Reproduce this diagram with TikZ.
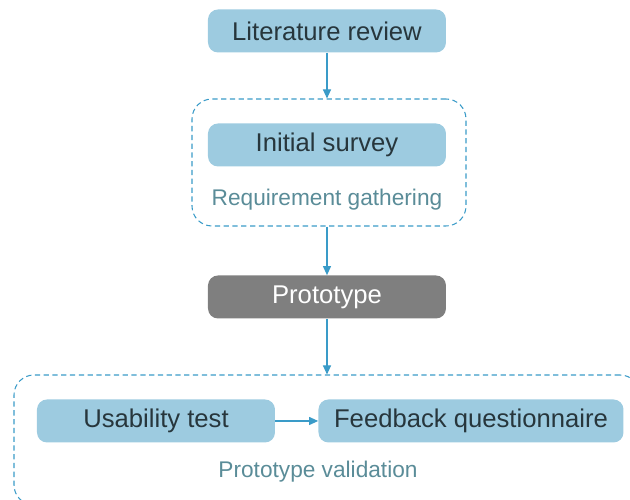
\documentclass[tikz,border=0pt]{standalone}
\usepackage{fontspec}
\setmainfont{Liberation Sans}
\usepackage{xcolor}
\usetikzlibrary{positioning,arrows.meta}

\definecolor{boxblue}{HTML}{9DCBE0}
\definecolor{boxtext}{HTML}{27363C}
\definecolor{linkblue}{HTML}{3A9BC8}
\definecolor{grouptext}{HTML}{5A8C98}
\definecolor{protogray}{HTML}{7F7F7F}

\tikzset{
  stage/.style={rectangle, rounded corners=2mm, fill=boxblue, text=boxtext,
    minimum width=4.76cm, minimum height=0.86cm, font=\fontsize{14.6}{16}\selectfont},
  group/.style={rectangle, rounded corners=4mm, draw=linkblue, dashed,
    dash pattern=on 3pt off 2pt, line width=0.6pt},
  grouplabel/.style={text=grouptext, font=\fontsize{12.9}{14}\selectfont},
  link/.style={draw=linkblue, line width=0.6pt, -{Triangle[length=1.8mm,width=1.6mm]}}
}

\begin{document}
\begin{tikzpicture}
    \useasboundingbox (0,0) rectangle (12.6,10);

    \node (lit) [stage] at (6.54,9.38) {Literature review};
    \node (init) [stage, below of=lit, node distance=2.28cm] {Initial survey};
    \node (reqlbl) [grouplabel, below of=init, node distance=1.1cm] {Requirement gathering};
    \node (reqgroup) [group, minimum width=5.48cm, minimum height=2.54cm] at (6.58,6.75) {};

    \node (proto) [stage, fill=protogray, text=white, below of=init, node distance=3.04cm] {Prototype};

    \node (usab) [stage] at (3.12,1.58) {Usability test};
    \node (feed) [stage, minimum width=6.1cm] at (9.42,1.58) {Feedback questionnaire};
    \node (vallbl) [grouplabel] at (6.36,0.56) {Prototype validation};
    \node (valgroup) [group, minimum width=12.52cm, minimum height=2.6cm] at (6.54,1.2) {};

    \draw [link] (lit) -- (reqgroup.north -| lit.south);
    \draw [link] (reqgroup.south -| proto.north) -- (proto);
    \draw [link] (proto) -- (valgroup.north -| proto.south);
    \draw [link] (usab) -- (feed);
\end{tikzpicture}
\end{document}
